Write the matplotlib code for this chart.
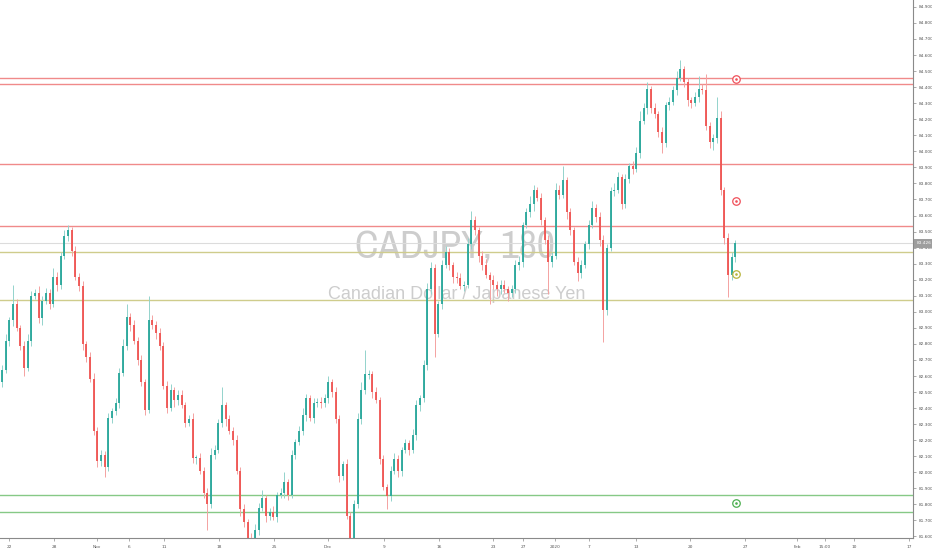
import matplotlib
matplotlib.use("Agg")
import matplotlib.pyplot as plt
from matplotlib import font_manager
from matplotlib.font_manager import FontProperties
from matplotlib.ticker import MultipleLocator, FuncFormatter
import numpy as np

# ---------------- data ----------------
bars_per_day = 3
first_open = 82.56
closes = [
    82.64, 82.82, 82.95, 83.05, 82.90, 82.79, 82.65, 82.82, 83.10, 83.12,
    82.96, 83.07, 83.12, 83.05, 83.22, 83.17, 83.35, 83.47, 83.51, 83.38,
    83.22, 83.16, 82.80, 82.72, 82.58, 82.26, 82.07, 82.11, 82.03, 82.34,
    82.38, 82.43, 82.62, 82.79, 82.97, 82.92, 82.82, 82.70, 82.56, 82.39,
    82.95, 82.92, 82.87, 82.79, 82.54, 82.40, 82.51, 82.45, 82.48, 82.42,
    82.31, 82.33, 82.09, 82.09, 82.01, 81.87, 81.80, 82.11, 82.14, 82.31,
    82.42, 82.33, 82.26, 82.20, 82.01, 81.77, 81.69, 81.59, 81.55, 81.64,
    81.78, 81.84, 81.73, 81.75, 81.72, 81.86, 81.87, 81.94, 81.86, 82.11,
    82.19, 82.26, 82.36, 82.46, 82.34, 82.43, 82.44, 82.43, 82.46, 82.56,
    82.50, 82.33, 81.98, 82.05, 81.73, 81.55, 81.80, 82.33, 82.51, 82.61,
    82.61, 82.50, 82.45, 82.08, 81.91, 81.85, 82.01, 82.08, 82.01, 82.14,
    82.18, 82.14, 82.23, 82.42, 82.46, 82.67, 83.14, 83.27, 82.86, 83.05,
    83.29, 83.37, 83.29, 83.22, 83.21, 83.16, 83.17, 83.42, 83.57, 83.51,
    83.35, 83.29, 83.23, 83.20, 83.17, 83.14, 83.17, 83.14, 83.12, 83.14,
    83.29, 83.31, 83.54, 83.62, 83.67, 83.76, 83.71, 83.57, 83.45, 83.31,
    83.35, 83.76, 83.73, 83.82, 83.62, 83.51, 83.31, 83.24, 83.29, 83.42,
    83.54, 83.65, 83.59, 83.45, 83.01, 83.40, 83.75, 83.76, 83.84, 83.67,
    83.83, 83.91, 83.89, 83.99, 84.19, 84.27, 84.39, 84.27, 84.23, 84.12,
    84.05, 84.29, 84.31, 84.38, 84.46, 84.51, 84.43, 84.32, 84.30, 84.34,
    84.39, 84.38, 84.16, 84.06, 84.08, 84.21, 83.76, 83.46, 83.23, 83.34,
    83.426,
]
# wick lengths beyond the body, in hundredths of a yen
upper_wick = [
    3, 4, 2, 12, 3, 2, 3, 4, 3, 2,
    4, 3, 3, 2, 5, 3, 2, 4, 3, 2,
    3, 2, 3, 2, 3, 4, 2, 3, 2, 3,
    2, 3, 3, 4, 8, 2, 3, 2, 3, 2,
    15, 3, 2, 3, 2, 3, 4, 2, 3, 3,
    2, 3, 4, 2, 3, 2, 3, 4, 3, 2,
    11, 2, 3, 2, 3, 2, 3, 2, 3, 4,
    3, 5, 2, 3, 4, 2, 3, 6, 2, 3,
    2, 3, 4, 3, 2, 3, 2, 3, 3, 4,
    2, 3, 3, 2, 3, 2, 3, 4, 5, 15,
    3, 2, 3, 2, 3, 2, 3, 4, 3, 2,
    3, 2, 4, 3, 2, 3, 4, 4, 3, 2,
    3, 4, 3, 2, 3, 3, 2, 4, 6, 3,
    2, 3, 4, 2, 3, 2, 3, 3, 2, 3,
    3, 4, 2, 3, 5, 3, 2, 3, 2, 3,
    2, 4, 3, 9, 2, 3, 2, 3, 3, 2,
    3, 4, 2, 3, 3, 2, 3, 4, 3, 2,
    3, 2, 3, 4, 6, 3, 4, 2, 3, 2,
    3, 2, 3, 3, 4, 6, 2, 3, 2, 3,
    8, 3, 10, 2, 3, 13, 4, 2, 3, 3,
    2,
]
lower_wick = [
    3, 2, 3, 4, 2, 3, 5, 2, 3, 2,
    3, 4, 2, 3, 2, 4, 3, 2, 3, 3,
    2, 3, 4, 3, 2, 3, 4, 3, 6, 2,
    3, 2, 3, 2, 3, 4, 2, 3, 2, 3,
    2, 3, 4, 3, 2, 3, 2, 4, 3, 2,
    3, 2, 3, 4, 2, 3, 16, 2, 3, 2,
    3, 4, 2, 3, 2, 4, 3, 3, 3, 2,
    3, 2, 4, 3, 2, 3, 2, 3, 3, 2,
    3, 2, 3, 4, 2, 3, 2, 3, 2, 3,
    3, 2, 4, 3, 2, 3, 3, 2, 3, 2,
    3, 4, 2, 3, 2, 8, 3, 2, 4, 3,
    2, 3, 2, 3, 4, 2, 3, 3, 14, 2,
    3, 2, 3, 4, 3, 2, 3, 2, 3, 3,
    4, 3, 2, 15, 3, 4, 3, 2, 5, 3,
    2, 3, 3, 2, 3, 4, 2, 3, 3, 20,
    3, 2, 3, 2, 4, 3, 2, 5, 3, 2,
    3, 2, 3, 4, 20, 3, 2, 3, 2, 3,
    2, 3, 3, 2, 3, 2, 4, 3, 2, 3,
    6, 2, 3, 2, 3, 2, 3, 4, 3, 2,
    3, 2, 3, 4, 5, 3, 3, 4, 14, 3,
    3,
]

red_levels = [84.460, 84.418, 83.920, 83.536]
olive_levels = [83.371, 83.075]
green_levels = [81.859, 81.751]
last_price = 83.426
alert_prices = [84.449, 83.690, 83.235, 81.810]
alert_kinds = ["red", "red", "olive", "green"]

date_ticks = [0.82, 4.91, 8.82, 11.73, 14.91, 19.91, 24.91, 29.82, 34.91, 39.91,
              44.82, 47.55, 50.45, 53.55, 57.82, 62.73, 67.73, 72.45, 75.0, 77.64, 82.64]
date_labels = ["22", "28", "Nov", "6", "11", "18", "25", "Dec", "9", "16",
               "23", "27", "2020", "7", "13", "20", "27", "Feb", "15:00", "10", "17"]

title_text = "CADJPY, 180"
subtitle_text = "Canadian Dollar / Japanese Yen"

# ---------------- styling ----------------
UP = "#26a69a"
DOWN = "#ef5350"
UP_WICK = "#93d3cc"
DOWN_WICK = "#f4a2a1"
LEVEL_COLORS = {"red": "#f08a8a", "olive": "#cfcc8c", "green": "#86c986"}
ALERT_COLORS = {"red": "#f0505a", "olive": "#b8b43c", "green": "#4caf50"}
AXIS_GREY = "#8a8a8a"
TEXT_GREY = "#555555"


def pick_condensed_font():
    best = None
    for f in font_manager.fontManager.ttflist:
        nm = f.name + " " + f.fname
        cond = ("Narrow" in nm or "Condensed" in nm or
                str(f.stretch) in ("condensed", "semi-condensed", "extra-condensed"))
        if cond and f.style == "normal" and f.weight in (400, "normal", "regular", "book"):
            if "Oblique" in f.fname or "Italic" in f.fname or "Bold" in f.fname:
                continue
            if best is None or "Narrow" in nm:
                best = f
    if best is not None:
        return FontProperties(fname=best.fname)
    return FontProperties(family="Liberation Sans")


W, H = 932, 550
fig = plt.figure(figsize=(W / 100, H / 100), dpi=100)
fig.patch.set_facecolor("white")
ax_w_px, ax_h_px, ax_bottom_px = 913, 537.7, 12.3
ax = fig.add_axes([0, ax_bottom_px / H, ax_w_px / W, ax_h_px / H])
ax.set_facecolor("white")

n = len(closes)
c = np.array(closes, dtype=float)
o = np.concatenate([[first_open], c[:-1]])
hi = np.maximum(o, c) + np.array(upper_wick[:n]) / 100.0
lo = np.minimum(o, c) - np.array(lower_wick[:n]) / 100.0
x = (np.arange(n) + 0.5) / bars_per_day
up = c >= o

ax.set_xlim(0, ax_w_px / 11.0)
ax.set_ylim(81.5925, 84.943)

# horizontal levels
for p in red_levels:
    ax.axhline(p, color=LEVEL_COLORS["red"], lw=1.0, zorder=2)
for p in olive_levels:
    ax.axhline(p, color=LEVEL_COLORS["olive"], lw=1.0, zorder=2)
for p in green_levels:
    ax.axhline(p, color=LEVEL_COLORS["green"], lw=1.0, zorder=2)
ax.axhline(last_price, color="#dcdcdc", lw=0.8, zorder=1.5)

# candles
wick_cols = np.where(up, UP_WICK, DOWN_WICK)
body_cols = np.where(up, UP, DOWN)
ax.vlines(x, lo, hi, colors=wick_cols, lw=0.7, zorder=3)
min_body = 0.006
b0 = np.where(np.abs(c - o) < min_body, (o + c) / 2 - min_body / 2, np.minimum(o, c))
b1 = np.where(np.abs(c - o) < min_body, (o + c) / 2 + min_body / 2, np.maximum(o, c))
ax.vlines(x, b0, b1, colors=body_cols, lw=1.3, zorder=4, capstyle="butt")

# alert icons
xa = x[-1] + 0.06
for p, k in zip(alert_prices, alert_kinds):
    ax.plot([xa], [p], "o", ms=5.4, mfc="white", mec=ALERT_COLORS[k], mew=0.9, zorder=6)
    ax.plot([xa], [p], "o", ms=1.9, mfc=ALERT_COLORS[k], mec=ALERT_COLORS[k], mew=0, zorder=7)

# watermark
fp_title = pick_condensed_font()
fp_title.set_size(30)
t1 = ax.text(0.4984, 0.5406, title_text, transform=ax.transAxes, ha="center", va="center",
             fontproperties=fp_title, color="#cdcdcd", zorder=0.5)
t2 = ax.text(0.5, 0.4514, subtitle_text, transform=ax.transAxes, ha="center", va="center",
             fontsize=13, color="#cdcdcd", family="Liberation Sans", zorder=0.5)
fig.canvas.draw()
r = fig.canvas.get_renderer()
for t, target in ((t1, 200.0), (t2, 257.0)):
    wpx = t.get_window_extent(r).width
    t.set_fontsize(t.get_fontsize() * target / wpx)

# axes styling
for s in ("left", "top"):
    ax.spines[s].set_visible(False)
for s in ("right", "bottom"):
    ax.spines[s].set_color(AXIS_GREY)
    ax.spines[s].set_linewidth(0.8)

ax.yaxis.tick_right()
ax.yaxis.set_major_locator(MultipleLocator(0.1))
ax.yaxis.set_major_formatter(FuncFormatter(lambda v, pos: f"{v:.3f}"))
ax.tick_params(axis="y", which="major", direction="out", length=2.5, width=0.5,
               colors=AXIS_GREY, labelcolor=TEXT_GREY, labelsize=3.1, pad=1.5)
ax.set_xticks(date_ticks)
ax.set_xticklabels(date_labels)
ax.tick_params(axis="x", which="major", direction="out", length=2.5, width=0.5,
               colors=AXIS_GREY, labelcolor=TEXT_GREY, labelsize=3.1, pad=2.5)

# last price label
ax.annotate(f"{last_price:.3f}", xy=(1.0, last_price), xycoords=("axes fraction", "data"),
            xytext=(2.5, 0), textcoords="offset points", ha="left", va="center",
            fontsize=3.1, color="white", zorder=10, annotation_clip=False,
            bbox=dict(boxstyle="square,pad=0.5", fc="#9e9e9e", ec="none"))

fig.savefig("out.png", dpi=100, facecolor="white")
